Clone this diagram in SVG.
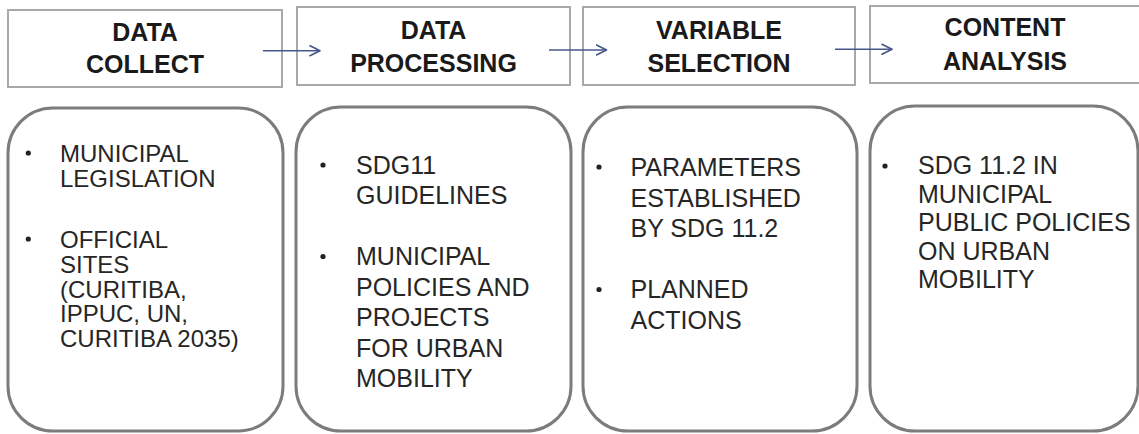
<svg xmlns="http://www.w3.org/2000/svg" width="1139" height="434" viewBox="0 0 1139 434">
  <defs>
    <marker id="chevron" viewBox="0 0 12 12" refX="11" refY="6" markerWidth="12" markerHeight="12" markerUnits="userSpaceOnUse" orient="auto">
      <path d="M1,1 L11,6 L1,11" fill="none" stroke="#46568a" stroke-width="1.6" stroke-linecap="round" stroke-linejoin="round"/>
    </marker>
    <style>
      .step { fill: #ffffff; stroke: #a8a8a8; stroke-width: 2; }
      .detail { fill: #ffffff; stroke: #7c7c7c; stroke-width: 3; }
      .head { font-family: "Liberation Sans", Arial, sans-serif; font-weight: bold; font-size: 25px; fill: #1a1a1a; text-anchor: middle; }
      .body { font-family: "Liberation Sans", Arial, sans-serif; font-size: 25px; fill: #262626; }
      .tight { font-size: 24px; }
      .dot { fill: #222222; }
      .flow { fill: none; stroke: #46568a; stroke-width: 1.6; marker-end: url(#chevron); }
    </style>
  </defs>

  <rect width="1139" height="434" fill="#ffffff"/>

  <!-- step headers -->
  <g id="step-collect">
    <rect class="step" x="8" y="10" width="274" height="77"/>
    <text class="head" x="145" y="40.5">DATA</text>
    <text class="head" x="145" y="73">COLLECT</text>
  </g>
  <g id="step-processing">
    <rect class="step" x="297" y="7" width="273" height="78"/>
    <text class="head" x="433.5" y="38.5">DATA</text>
    <text class="head" x="433.5" y="72">PROCESSING</text>
  </g>
  <g id="step-selection">
    <rect class="step" x="583" y="7" width="272" height="78"/>
    <text class="head" x="719" y="38.5">VARIABLE</text>
    <text class="head" x="719" y="72">SELECTION</text>
  </g>
  <g id="step-analysis">
    <rect class="step" x="870" y="6" width="270" height="77"/>
    <text class="head" x="1005" y="36">CONTENT</text>
    <text class="head" x="1005" y="70">ANALYSIS</text>
  </g>

  <!-- flow between steps -->
  <g id="connectors">
    <path class="flow" d="M263,50.7 L320,50.7"/>
    <path class="flow" d="M549,50 L606.5,50"/>
    <path class="flow" d="M835,49.3 L892,49.3"/>
  </g>

  <!-- detail panels -->
  <g id="detail-collect">
    <rect class="detail" x="8" y="108" width="275" height="323" rx="45" ry="45"/>
    <circle class="dot" cx="28.3" cy="153" r="2.6"/>
    <text class="body tight" x="60" y="162">MUNICIPAL</text>
    <text class="body tight" x="60" y="186.8">LEGISLATION</text>
    <circle class="dot" cx="28.3" cy="239" r="2.6"/>
    <text class="body tight" x="60" y="248">OFFICIAL</text>
    <text class="body tight" x="60" y="272.8">SITES</text>
    <text class="body tight" x="60" y="297.6">(CURITIBA,</text>
    <text class="body tight" x="60" y="322.4">IPPUC, UN,</text>
    <text class="body tight" x="60" y="347.2">CURITIBA 2035)</text>
  </g>
  <g id="detail-processing">
    <rect class="detail" x="296" y="107" width="275" height="324" rx="45" ry="45"/>
    <circle class="dot" cx="323" cy="165" r="2.6"/>
    <text class="body" x="356" y="173.5">SDG11</text>
    <text class="body" x="356" y="203.5">GUIDELINES</text>
    <circle class="dot" cx="323" cy="256.5" r="2.6"/>
    <text class="body" x="356" y="265">MUNICIPAL</text>
    <text class="body" x="356" y="295.5">POLICIES AND</text>
    <text class="body" x="356" y="326">PROJECTS</text>
    <text class="body" x="356" y="356.5">FOR URBAN</text>
    <text class="body" x="356" y="387">MOBILITY</text>
  </g>
  <g id="detail-selection">
    <rect class="detail" x="583" y="107" width="274" height="324" rx="45" ry="45"/>
    <circle class="dot" cx="599" cy="167" r="2.6"/>
    <text class="body" x="630.5" y="176">PARAMETERS</text>
    <text class="body" x="630.5" y="207">ESTABLISHED</text>
    <text class="body" x="630.5" y="237">BY SDG 11.2</text>
    <circle class="dot" cx="599" cy="289.5" r="2.6"/>
    <text class="body" x="630.5" y="298">PLANNED</text>
    <text class="body" x="630.5" y="329">ACTIONS</text>
  </g>
  <g id="detail-analysis">
    <rect class="detail" x="870" y="106" width="268" height="325" rx="45" ry="45"/>
    <circle class="dot" cx="885" cy="166" r="2.6"/>
    <text class="body" x="918" y="174">SDG 11.2 IN</text>
    <text class="body" x="918" y="202.5">MUNICIPAL</text>
    <text class="body" x="918" y="231">PUBLIC POLICIES</text>
    <text class="body" x="918" y="259.5">ON URBAN</text>
    <text class="body" x="918" y="288">MOBILITY</text>
  </g>
</svg>
